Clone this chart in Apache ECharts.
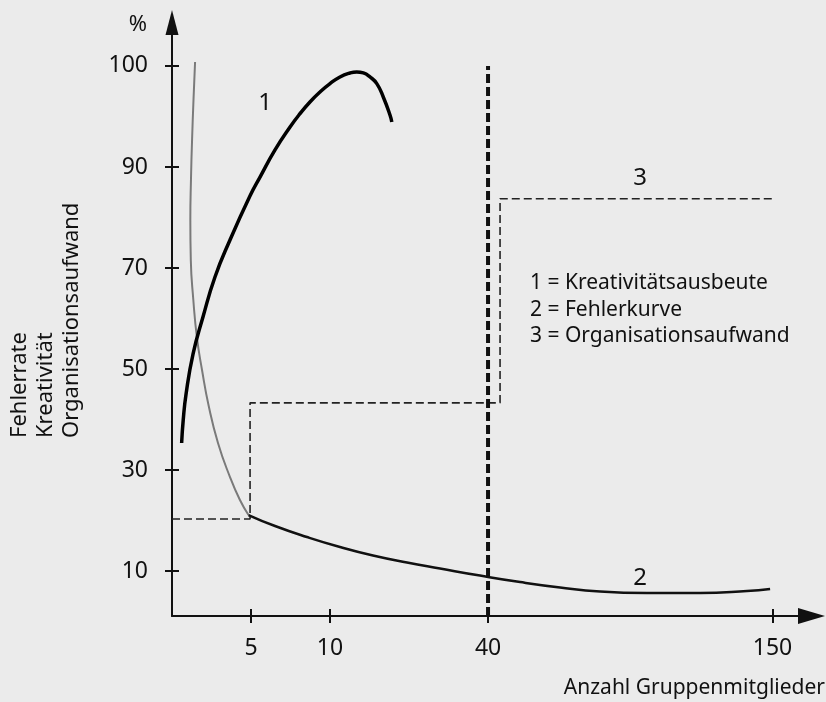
<!DOCTYPE html>
<html><head><meta charset="utf-8">
<script src="https://cdn.jsdelivr.net/npm/echarts@6/dist/echarts.min.js"></script>
<style>html,body{margin:0;padding:0;background:#ebebeb}#c{width:826px;height:702px}</style>
</head><body><div id="c"></div><script>
// Axis units: the printed scales are schematic (not linear in their labels).
// Tick labels are placed at these axis positions.
const xTickPos = [5, 10, 20, 38];
const xTickLabels = ['5', '10', '40', '150'];
const yTickPos = [10, 30, 50, 70, 90, 110];
const yTickLabels = ['10', '30', '50', '70', '90', '100'];

// Curve 1: Kreativitätsausbeute [x, y] in axis units
const kreativ = [[0.61,35.35],[0.71,39.9],[0.89,45.05],[1.33,52.97],[1.96,60.30],[2.72,68.22],[3.67,75.54],[4.94,84.3],[5.57,88.0],[6.52,93.37],[7.47,97.9],[8.10,100.55],[8.73,102.87],[9.37,104.85],[10.0,106.5],[10.63,107.82],[11.27,108.61],[11.69,108.81],[12.11,108.61],[12.53,107.82],[12.96,106.5],[13.37,103.86],[13.80,100.24],[13.91,98.91]];
// Curve 2: Fehlerkurve (grey upper part, black lower part)
const fehlerOben = [[1.46,110.79],[1.36,103.27],[1.27,95.35],[1.20,87.43],[1.16,79.50],[1.19,71.58],[1.35,63.66],[1.58,56.14],[1.90,49.80],[2.31,42.87],[2.91,35.35],[3.67,28.61],[4.30,24.06],[4.84,21.09]];
const fehlerUnten = [[4.84,21.09],[6.52,18.91],[8.54,16.73],[10.63,14.75],[12.72,13.07],[14.87,11.68],[16.96,10.50],[19.49,9.1],[22.03,7.82],[24.56,6.75],[27.09,5.94],[30.06,5.64],[33.42,5.64],[36.39,6.04],[37.85,6.44]];
// Curve 3: Organisationsaufwand (step)
const orgAufwand = [[0,20.3],[4.94,20.3],[4.94,43.3],[20.76,43.3],[20.76,83.7],[38.04,83.7]];
// Marker at 40 members
const grenze40 = [[20,1.1],[20,110]];

const legendLines = ['1 = Kreativitätsausbeute', '2 = Fehlerkurve', '3 = Organisationsaufwand'];
const yNames = ['Fehlerrate', 'Kreativität', 'Organisationsaufwand'];

const FONT = '"Noto Sans", sans-serif';
const INK = '#111';
const xMin = 0, xMax = 40.47, yMin = 1.1, yMax = 118.6;

function lab(pos, labels) { return v => { const i = pos.findIndex(p => Math.abs(p - v) < 1e-6); return i >= 0 ? labels[i] : ''; }; }

const chart = echarts.init(document.getElementById('c'), null, {renderer: 'canvas'});
const txt = (x, y, text, size, align, valign, rot) => ({type: 'text', x, y, rotation: rot || 0, silent: true,
  style: {text, fill: INK, fontSize: size, fontFamily: FONT, align, verticalAlign: valign}});

chart.setOption({
  backgroundColor: '#ebebeb',
  animation: false,
  grid: {left: 172, right: 14.5, top: 22.5, bottom: 86, containLabel: false},
  xAxis: [
    {type: 'value', min: xMin, max: xMax, position: 'bottom',
     axisLine: {onZero: false, lineStyle: {color: INK, width: 2}, symbol: ['none', 'triangle'], symbolSize: [16, 27]},
     axisTick: {show: true, length: 7, lineStyle: {color: INK, width: 2}, customValues: xTickPos},
     axisLabel: {customValues: xTickPos, formatter: lab(xTickPos, xTickLabels), color: INK, fontSize: 23, fontFamily: FONT, margin: 21},
     splitLine: {show: false}},
    {type: 'value', min: xMin, max: xMax, position: 'bottom',
     axisLine: {show: false, onZero: false},
     axisTick: {show: true, inside: true, length: 7, lineStyle: {color: INK, width: 2}, customValues: xTickPos},
     axisLabel: {show: false}, splitLine: {show: false}}
  ],
  yAxis: [
    {type: 'value', min: yMin, max: yMax, position: 'left',
     axisLine: {show: true, onZero: false, lineStyle: {color: INK, width: 2}, symbol: ['none', 'triangle'], symbolSize: [13, 25]},
     axisTick: {show: true, length: 7, lineStyle: {color: INK, width: 2}, customValues: yTickPos},
     axisLabel: {customValues: yTickPos, formatter: lab(yTickPos, yTickLabels), color: INK, fontSize: 23, fontFamily: FONT, margin: 24},
     splitLine: {show: false}},
    {type: 'value', min: yMin, max: yMax, position: 'left',
     axisLine: {show: false, onZero: false},
     axisTick: {show: true, inside: true, length: 7, lineStyle: {color: INK, width: 2}, customValues: yTickPos},
     axisLabel: {show: false}, splitLine: {show: false}}
  ],
  series: [
    {name: 'Organisationsaufwand', type: 'line', data: orgAufwand, showSymbol: false, smooth: false,
     lineStyle: {color: '#222', width: 1.6, type: [8, 4]}},
    {name: 'Grenze', type: 'line', data: grenze40, showSymbol: false,
     lineStyle: {color: '#111', width: 4, type: [9, 4]}},
    {name: 'Fehlerkurve oben', type: 'line', data: fehlerOben, showSymbol: false, smooth: 0.5,
     lineStyle: {color: '#7a7a7a', width: 2}},
    {name: 'Fehlerkurve', type: 'line', data: fehlerUnten, showSymbol: false, smooth: 0.5,
     lineStyle: {color: '#111', width: 2.5}},
    {name: 'Kreativitätsausbeute', type: 'line', data: kreativ, showSymbol: false, smooth: 0.5,
     lineStyle: {color: '#000', width: 3.5}}
  ],
  graphic: [
    txt(138, 25, '%', 22, 'center', 'middle'),
    txt(265, 103, '1', 24, 'center', 'middle'),
    txt(640, 578, '2', 24, 'center', 'middle'),
    txt(640, 178, '3', 24, 'center', 'middle'),
    txt(530, 283, legendLines[0], 21, 'left', 'middle'),
    txt(530, 310, legendLines[1], 21, 'left', 'middle'),
    txt(530, 336, legendLines[2], 21, 'left', 'middle'),
    txt(20, 438, yNames[0], 22, 'left', 'middle', Math.PI / 2),
    txt(46, 438, yNames[1], 22, 'left', 'middle', Math.PI / 2),
    txt(72, 438, yNames[2], 22, 'left', 'middle', Math.PI / 2),
    txt(825, 688, 'Anzahl Gruppenmitglieder', 21, 'right', 'middle')
  ]
});
</script></body></html>
